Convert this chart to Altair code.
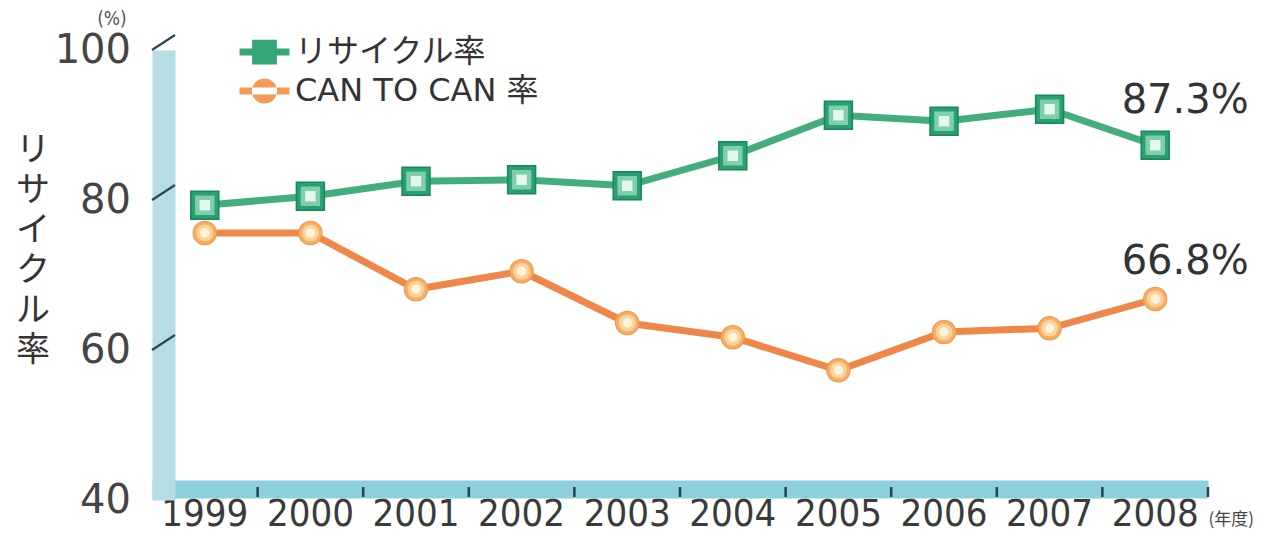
import altair as alt
import pandas as pd

years = ["1999", "2000", "2001", "2002", "2003", "2004", "2005", "2006", "2007", "2008"]
recycle_rate = [79.3, 80.5, 82.5, 82.7, 81.9, 85.9, 91.3, 90.5, 92.1, 87.3]
can_to_can_rate = [75.6, 75.6, 68.1, 70.5, 63.6, 61.7, 57.3, 62.4, 62.9, 66.8]
series_names = ["リサイクル率", "CAN TO CAN 率"]
y_ticks = [40, 60, 80, 100]
end_labels = ["87.3%", "66.8%"]

GREEN_LINE = "#45ad7d"
ORANGE_LINE = "#f0874a"
TEXT = "#333333"
FONT_JP = "Noto Sans CJK JP"
FONT_NUM = "DejaVu Sans"
FONT_NARROW = "Liberation Sans Narrow, DejaVu Sans Condensed, sans-serif"

rows = []
for y, v in zip(years, recycle_rate):
    rows.append({"series": series_names[0], "year": y, "value": v})
for y, v in zip(years, can_to_can_rate):
    rows.append({"series": series_names[1], "year": y, "value": v})
df = pd.DataFrame(rows)

x_scale = alt.Scale(type="band", domain=years, paddingInner=0, paddingOuter=0)
x_enc = alt.X(
    "year:N",
    sort=years,
    scale=x_scale,
    axis=alt.Axis(
        title=None,
        bandPosition=0.5,
        labelAngle=0,
        labelAlign="center",
        labelFont=FONT_NARROW,
        labelFontSize=38,
        labelColor="#3a3a3a",
        labelPadding=6,
        labelBaseline="top",
        domainColor="#8ecfdc",
        domainWidth=18,
        offset=-11,
        ticks=False,
        tickSize=0,
        grid=False,
    ),
)
y_scale = alt.Scale(domain=[40, 100], nice=False, zero=False)
y_enc = alt.Y(
    "value:Q",
    scale=y_scale,
    axis=alt.Axis(
        values=y_ticks,
        ticks=False,
        tickSize=0,
        grid=False,
        domainColor="#b6dde3",
        domainWidth=23,
        offset=-11.5,
        labelFont=FONT_NUM,
        labelFontSize=40,
        labelColor="#444444",
        labelPadding=33,
        title=["リ", "サ", "イ", "ク", "ル", "率"],
        titleAngle=0,
        titleX=-131,
        titleY=100,
        titleAlign="center",
        titleBaseline="middle",
        titleFont=FONT_JP,
        titleFontSize=34,
        titleFontWeight="normal",
        titleLineHeight=40,
        titleColor=TEXT,
    ),
)

base = alt.Chart(df)

green = base.transform_filter(alt.datum.series == series_names[0])
orange = base.transform_filter(alt.datum.series == series_names[1])

green_line = green.mark_line(color=GREEN_LINE, strokeWidth=7).encode(x=x_enc, y=y_enc)
orange_line = orange.mark_line(color=ORANGE_LINE, strokeWidth=7).encode(x=x_enc, y=y_enc)

g1 = green.mark_square(size=784, color="#2a9f72", stroke="#17895f", strokeWidth=1.5, opacity=1).encode(x=x_enc, y=y_enc)
g2 = green.mark_square(size=380, color="#7fcfaa", opacity=1).encode(x=x_enc, y=y_enc)
g3 = green.mark_square(size=110, color="#e4f7ee", opacity=1).encode(x=x_enc, y=y_enc)

o1 = orange.mark_circle(size=540, color="#f6b066", stroke="#f09a50", strokeWidth=1.2, opacity=1).encode(x=x_enc, y=y_enc)
o2 = orange.mark_circle(size=280, color="#fcd39a", opacity=1).encode(x=x_enc, y=y_enc)
o3 = orange.mark_circle(size=90, color="#fff3dc", opacity=1).encode(x=x_enc, y=y_enc)

# x-axis ticks at the right end of each year band
x_ticks = alt.Chart(pd.DataFrame({"year": years})).mark_rule(
    color="#23474f", strokeWidth=2.5).encode(
    x=alt.X("year:N", sort=years, scale=x_scale, bandPosition=1),
    y=alt.value(437), y2=alt.value(447))

green_path = "M-1.11,-0.16H1.11V0.16H-1.11Z M-0.55,-0.55H0.55V0.55H-0.55Z"
orange_path = ("M-1.11,-0.16H1.11V0.16H-1.11Z "
               "M-0.56,0 A0.56,0.56 0 1,0 0.56,0 A0.56,0.56 0 1,0 -0.56,0 Z")

legend_props = dict(
    orient="none",
    legendX=90,
    legendY=-20.5,
    title=None,
    labelFont="DejaVu Sans, Noto Sans CJK JP",
    labelFontSize=32,
    labelColor=TEXT,
    labelOffset=8,
    labelLimit=0,
    symbolSize=2025,
    symbolOpacity=1,
    symbolStrokeWidth=0,
    rowPadding=0,
    padding=0,
)

legend_layer = base.mark_point(filled=True, opacity=0).encode(
    x=alt.X("year:N", sort=years, scale=x_scale),
    y=alt.Y("value:Q", scale=y_scale),
    color=alt.Color(
        "series:N",
        scale=alt.Scale(domain=series_names, range=["#35a677", "#f39a55"]),
        legend=alt.Legend(**legend_props),
    ),
    shape=alt.Shape(
        "series:N",
        scale=alt.Scale(domain=series_names, range=[green_path, orange_path]),
        legend=alt.Legend(**legend_props),
    ),
)

last_green = green.transform_filter(alt.datum.year == years[-1]).transform_calculate(lbl=f"'{end_labels[0]}'")
last_orange = orange.transform_filter(alt.datum.year == years[-1]).transform_calculate(lbl=f"'{end_labels[1]}'")
green_text = last_green.mark_text(font=FONT_NUM, fontSize=40, color=TEXT, dx=30, dy=-44).encode(
    x=x_enc, y=y_enc, text="lbl:N")
orange_text = last_orange.mark_text(font=FONT_NUM, fontSize=40, color=TEXT, dx=30, dy=-37).encode(
    x=x_enc, y=y_enc, text="lbl:N")

tick_df = pd.DataFrame({"t": [60, 80, 100]})
diag_ticks = alt.Chart(tick_df).transform_calculate(t2="datum.t + 2").mark_rule(
    color="#2b4950", strokeWidth=2.2).encode(
    x=alt.value(0), x2=alt.value(23),
    y=alt.Y("t:Q", scale=y_scale), y2="t2:Q")

unit_text = alt.Chart(pd.DataFrame({"u": ["(%)"]})).mark_text(
    font=FONT_NARROW, fontSize=19, color="#555555", dy=-31).encode(
    x=alt.value(-40), y=alt.datum(100), text="u:N")

year_unit = alt.Chart(pd.DataFrame({"u": ["(年度)"], "year": [years[-1]]})).mark_text(
    font=FONT_JP, fontSize=17, color="#444444", dx=76, dy=20).encode(
    x=alt.X("year:N", sort=years, scale=x_scale), y=alt.datum(40), text="u:N")

chart = alt.layer(
    legend_layer, diag_ticks, x_ticks, green_line, orange_line,
    o1, o2, o3, g1, g2, g3, green_text, orange_text, unit_text, year_unit,
).properties(
    width=1056,
    height=450,
    autosize=alt.AutoSizeParams(type="none"),
    padding={"left": 144, "top": 42, "right": 46, "bottom": 37},
    background="white",
).configure_view(stroke=None)

chart.save("out.html", embed_options={"renderer": "svg", "actions": False})
